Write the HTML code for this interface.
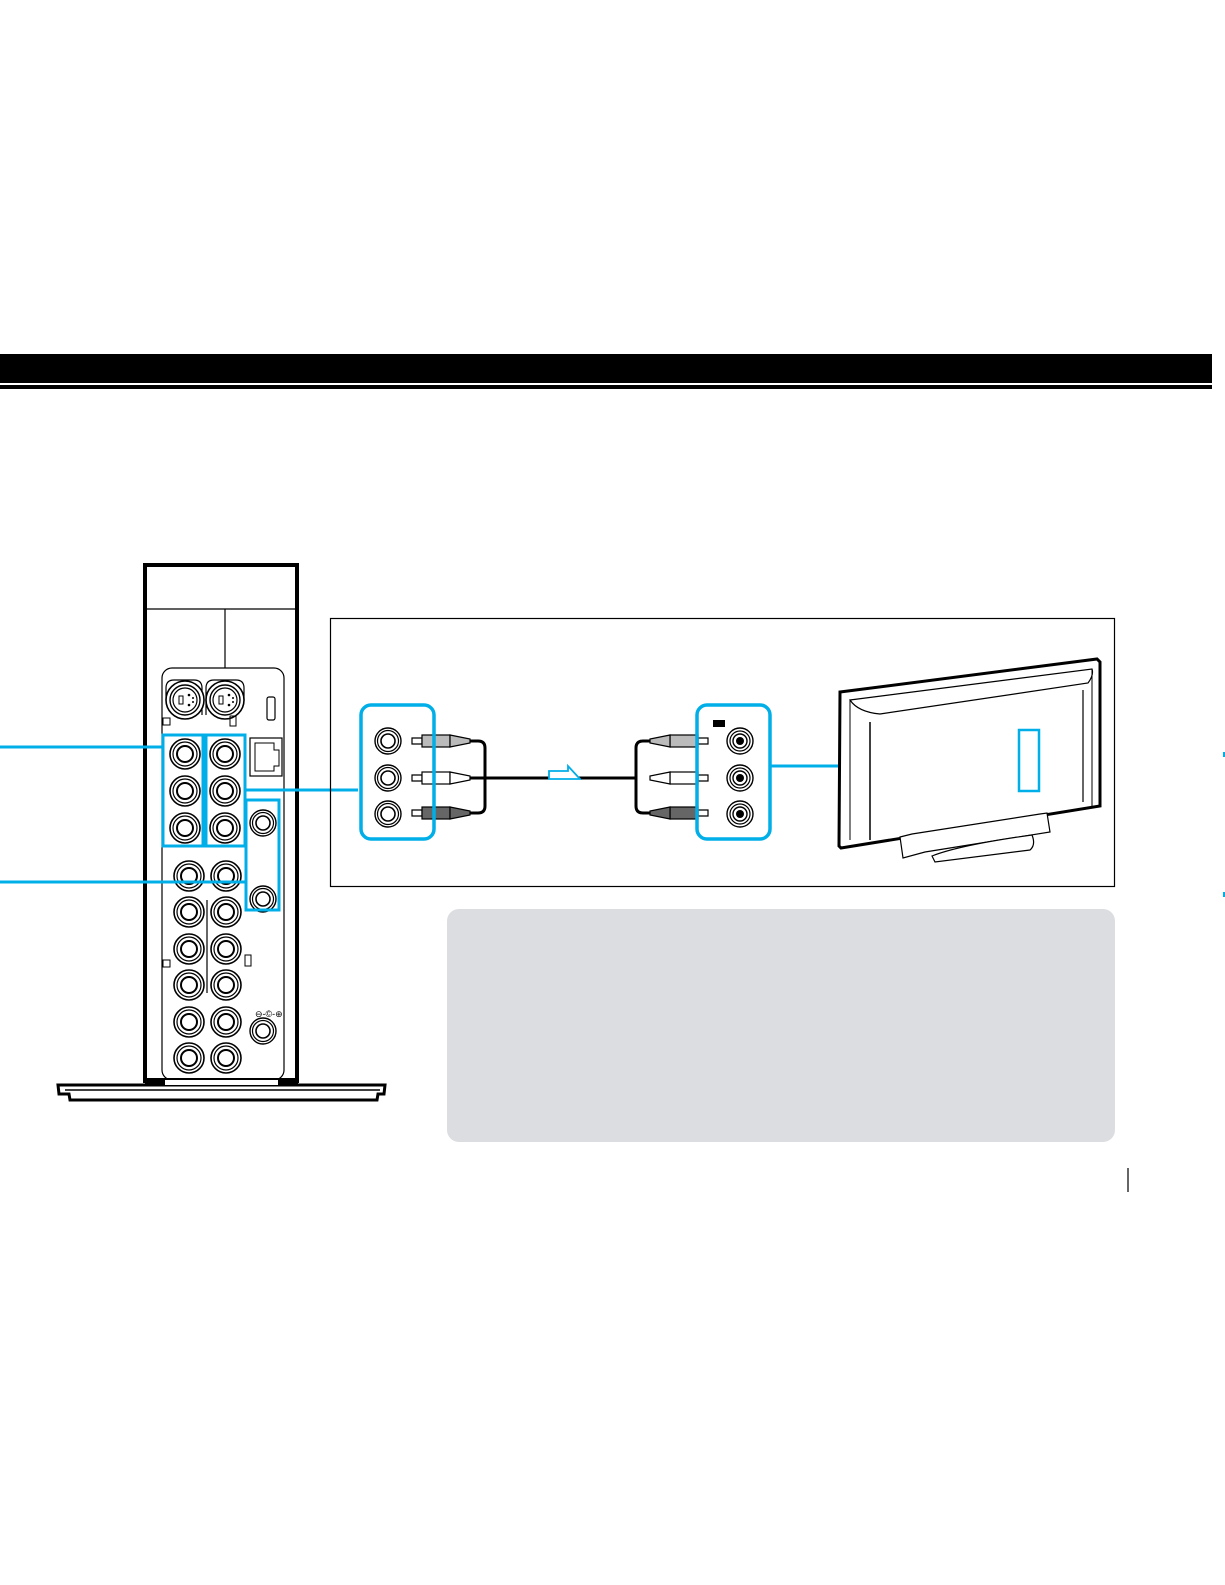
<!DOCTYPE html>
<html><head><meta charset="utf-8"><style>html,body{margin:0;padding:0;background:#fff}svg{display:block}</style></head>
<body>
<svg width="1225" height="1585" viewBox="0 0 1225 1585" xmlns="http://www.w3.org/2000/svg">
<defs>
<g id="jk"><circle r="15" fill="#fff" stroke="#000" stroke-width="1.6"/><circle r="12" fill="none" stroke="#000" stroke-width="1.2"/><circle r="8" fill="none" stroke="#000" stroke-width="2"/></g>
<g id="jk2"><circle r="13" fill="#fff" stroke="#000" stroke-width="1.4"/><circle r="10.5" fill="none" stroke="#000" stroke-width="1.2"/><circle r="7" fill="none" stroke="#000" stroke-width="1.6"/></g>
<g id="jk3"><circle r="13" fill="#fff" stroke="#000" stroke-width="1.4"/><circle r="10" fill="none" stroke="#000" stroke-width="1.2"/><circle r="7" fill="none" stroke="#000" stroke-width="1.4"/><circle r="4" fill="#000"/></g>
<g id="sv"><circle r="19" fill="#fff" stroke="#000" stroke-width="1.6"/><circle r="15" fill="none" stroke="#000" stroke-width="1.4"/><circle r="12" fill="none" stroke="#000" stroke-width="1.2"/><rect x="-6" y="-4" width="4" height="8" fill="none" stroke="#000"/><circle cx="4" cy="-5" r="1.3"/><circle cx="4" cy="5" r="1.3"/><circle cx="8" cy="-2" r="1"/><circle cx="8" cy="2" r="1"/></g>
</defs>
<!-- header bar -->
<rect x="0" y="354" width="1212" height="29" fill="#000"/>
<rect x="0" y="385" width="1212" height="4" fill="#000"/>

<!-- device -->
<path d="M145 1083 V565 H297 V1083" fill="#fff" stroke="#000" stroke-width="4"/>
<line x1="145" y1="609" x2="297" y2="609" stroke="#000" stroke-width="1.2"/>
<line x1="225" y1="609" x2="225" y2="668" stroke="#000" stroke-width="1.2"/>
<rect x="162" y="668" width="122" height="412" rx="10" fill="none" stroke="#000" stroke-width="1.2"/>
<path d="M166 700 V688 q0-8 8-8 h20 q8 0 8 8 V715 M206 715 V688 q0-8 8-8 h22 q8 0 8 8 V700" fill="none" stroke="#000" stroke-width="1.2"/>
<use href="#sv" x="185" y="700"/><use href="#sv" x="225" y="700"/>
<rect x="163" y="718" width="7" height="7" fill="none" stroke="#000"/>
<rect x="230" y="716" width="6" height="10" fill="none" stroke="#000"/>
<rect x="267" y="697" width="8" height="23" rx="2" fill="#fff" stroke="#000" stroke-width="1.2"/>
<rect x="250" y="738" width="32" height="38" fill="#fff" stroke="#000" stroke-width="1.2"/>
<path d="M255 743 H274 V750 H279 V766 H274 V771 H255 Z" fill="none" stroke="#000"/>
<g>
<use href="#jk" x="185" y="754"/><use href="#jk" x="225" y="754"/>
<use href="#jk" x="185" y="791"/><use href="#jk" x="225" y="791"/>
<use href="#jk" x="185" y="828"/><use href="#jk" x="225" y="828"/>
<use href="#jk" x="189" y="876"/><use href="#jk" x="226" y="876"/>
<use href="#jk" x="189" y="912"/><use href="#jk" x="226" y="912"/>
<use href="#jk" x="189" y="949"/><use href="#jk" x="226" y="949"/>
<use href="#jk" x="189" y="985"/><use href="#jk" x="226" y="985"/>
<use href="#jk" x="189" y="1022"/><use href="#jk" x="226" y="1022"/>
<use href="#jk" x="189" y="1058"/><use href="#jk" x="226" y="1058"/>
</g>
<line x1="207" y1="900" x2="207" y2="993" stroke="#000" stroke-width="1.2"/>
<rect x="163" y="960" width="7" height="7" fill="none" stroke="#000"/>
<rect x="245" y="955" width="6" height="11" fill="none" stroke="#000"/>
<use href="#jk2" x="263" y="1031"/>
<text x="255" y="1017" font-family="Liberation Sans, sans-serif" font-size="9">⊖-©-⊕</text>
<use href="#jk2" x="263" y="823"/><use href="#jk2" x="263" y="899"/>
<line x1="226" y1="1080" x2="226" y2="1095" stroke="#000"/>
<!-- base -->
<path d="M58 1085 H385 L384 1094 H378 L377 1100 H70 L69 1094 H59 Z" fill="#fff" stroke="#000" stroke-width="3"/>
<line x1="65" y1="1090" x2="380" y2="1090" stroke="#000" stroke-width="1.5"/>
<rect x="145" y="1078" width="153" height="7" fill="#000"/><rect x="165" y="1080" width="113" height="5" fill="#fff"/>

<!-- blue boxes on device -->
<g fill="none" stroke="#00aee8" stroke-width="3">
<rect x="163" y="735" width="40" height="111"/>
<rect x="206" y="735" width="39" height="111"/>
<rect x="246" y="800" width="33" height="110"/>
<line x1="0" y1="747" x2="163" y2="747"/>
<line x1="0" y1="882" x2="246" y2="882"/>
<line x1="245" y1="790" x2="358" y2="790"/>
</g>

<!-- frame -->
<rect x="330.5" y="618.5" width="784" height="268" fill="none" stroke="#000" stroke-width="1.2"/>

<!-- cable -->
<path d="M470 741 H478 q7 0 7 7 V806 q0 7 -7 7 H470 M470 778 H637 M650 741 H643 q-7 0 -7 7 V806 q0 7 7 7 H650" fill="none" stroke="#000" stroke-width="3"/>
<g stroke="#000" stroke-width="1.2">
<g transform="translate(0,741)"><path d="M412 -3 H422 V3 H412 Z" fill="#fff"/><rect x="422" y="-6" width="28" height="12" fill="#bbb"/><path d="M450 -6 L470 -2 V2 L450 6 Z" fill="#bbb"/></g>
<g transform="translate(0,778)"><path d="M412 -3 H422 V3 H412 Z" fill="#fff"/><rect x="422" y="-6" width="28" height="12" fill="#fff"/><path d="M450 -6 L470 -2 V2 L450 6 Z" fill="#fff"/></g>
<g transform="translate(0,813)"><path d="M412 -3 H422 V3 H412 Z" fill="#fff"/><rect x="422" y="-6" width="28" height="12" fill="#666"/><path d="M450 -6 L470 -2 V2 L450 6 Z" fill="#666"/></g>
<g transform="translate(1120,741) scale(-1,1)"><path d="M412 -3 H422 V3 H412 Z" fill="#fff"/><rect x="422" y="-6" width="28" height="12" fill="#bbb"/><path d="M450 -6 L470 -2 V2 L450 6 Z" fill="#bbb"/></g>
<g transform="translate(1120,778) scale(-1,1)"><path d="M412 -3 H422 V3 H412 Z" fill="#fff"/><rect x="422" y="-6" width="28" height="12" fill="#fff"/><path d="M450 -6 L470 -2 V2 L450 6 Z" fill="#fff"/></g>
<g transform="translate(1120,813) scale(-1,1)"><path d="M412 -3 H422 V3 H412 Z" fill="#fff"/><rect x="422" y="-6" width="28" height="12" fill="#666"/><path d="M450 -6 L470 -2 V2 L450 6 Z" fill="#666"/></g>
</g>
<path d="M549 771 H568 V766 L580 779 H549 Z" fill="#fff" stroke="#00aee8" stroke-width="1.8"/>

<use href="#jk2" x="388" y="741"/><use href="#jk2" x="388" y="778"/><use href="#jk2" x="388" y="814"/>
<use href="#jk3" x="740" y="741"/><use href="#jk3" x="740" y="778"/><use href="#jk3" x="740" y="814"/>
<rect x="713" y="720" width="12" height="7" fill="#000"/>
<rect x="361" y="705" width="73" height="134" rx="10" fill="none" stroke="#00aee8" stroke-width="3.5"/>
<rect x="697" y="705" width="73" height="134" rx="10" fill="none" stroke="#00aee8" stroke-width="3.5"/>
<line x1="770" y1="766" x2="1009" y2="766" stroke="#00aee8" stroke-width="3"/>

<!-- TV -->
<path d="M840 692 L1097 659 L1100 662 V806 L841 848 L839 846 Z" fill="#fff" stroke="#000" stroke-width="3"/>
<path d="M850 700 L1092 669 Q1094 675 1088 683 L880 714 Q858 712 850 700 Z" fill="none" stroke="#000" stroke-width="1.2"/>
<path d="M850 700 V840 M1092 669 V806" fill="none" stroke="#000" stroke-width="1"/>
<line x1="870" y1="722" x2="870" y2="840" stroke="#000" stroke-width="1.5"/>
<line x1="1083" y1="690" x2="1083" y2="802" stroke="#000" stroke-width="1.2"/>
<path d="M900 837 L912 834 L1040 814 L1047 813 L1050 832 L925 852 L903 858 Z" fill="#fff" stroke="#000" stroke-width="1.2"/>
<path d="M932 856 Q960 845 1032 835 Q1036 845 1030 850 L935 862 Z" fill="#fff" stroke="#000" stroke-width="1.2"/>
<rect x="1019" y="730" width="20" height="61" fill="none" stroke="#00aee8" stroke-width="2.5"/>

<!-- gray note box -->
<rect x="447" y="909" width="668" height="233" rx="12" fill="#dcdde0"/>
<line x1="1128" y1="1168" x2="1128" y2="1192" stroke="#000" stroke-width="1.2"/>
<rect x="1223" y="752" width="2" height="5" fill="#00aee8"/>
<rect x="1223" y="892" width="2" height="5" fill="#00aee8"/>
</svg>
</body></html>
